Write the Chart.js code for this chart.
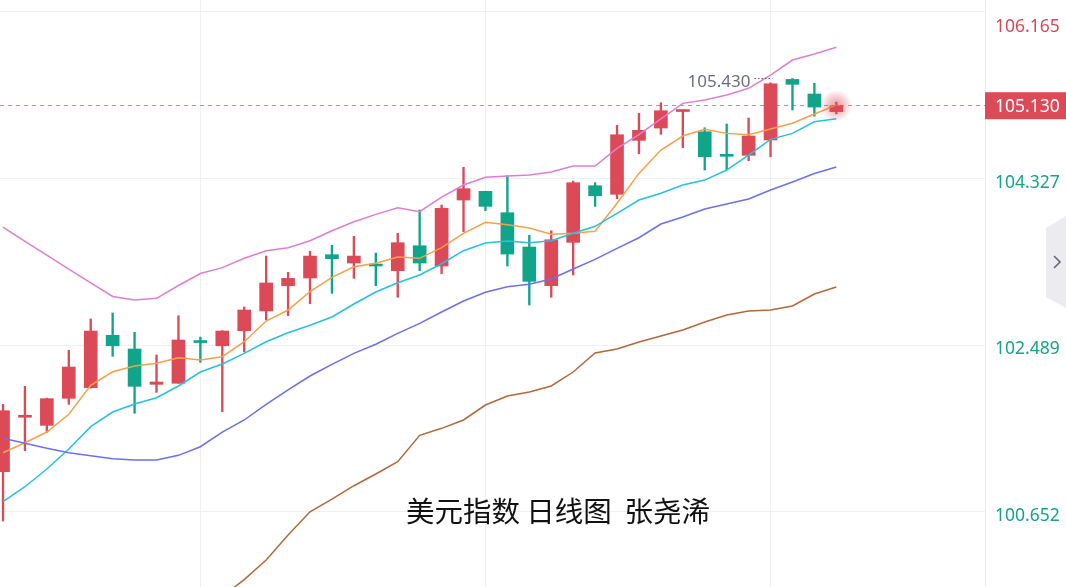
<!DOCTYPE html>
<html>
<head>
<meta charset="utf-8">
<script src="https://cdn.jsdelivr.net/npm/chart.js@4"></script>
<style>
  html, body { margin: 0; padding: 0; background: #ffffff; }
  #wrap { width: 1066px; height: 587px; position: relative; }
</style>
</head>
<body>
<div id="wrap"><canvas id="c" width="1066" height="587"></canvas></div>
<script>
// ---- Data (US Dollar Index, daily) ----
const opens  = [101.094,101.694,101.605,101.903,102.020,102.598,102.447,102.057,102.069,102.529,
                102.483,102.649,102.866,103.145,103.230,103.487,103.395,103.379,103.310,103.586,
                103.362,104.090,104.186,103.950,103.572,103.145,103.623,104.248,104.153,104.748,
                104.884,105.066,104.843,104.586,104.583,104.752,105.420,105.259,105.065];
const highs  = [101.837,102.035,101.905,102.432,102.778,102.844,102.631,102.381,102.814,102.579,
                102.650,102.910,103.472,103.293,103.524,103.590,103.690,103.505,103.723,103.980,
                104.035,104.451,104.186,104.358,103.701,103.751,104.299,104.281,104.914,105.046,
                105.163,105.082,104.887,104.928,104.994,105.383,105.430,105.377,105.170];
const lows   = [100.550,101.325,101.528,101.837,102.015,102.366,101.738,101.969,102.069,102.300,
                101.755,102.414,102.767,102.814,102.946,103.061,103.226,103.145,103.017,103.310,
                103.277,103.740,103.972,103.362,102.932,103.017,103.263,104.020,104.104,104.600,
                104.814,104.667,104.421,104.424,104.523,104.567,105.082,105.016,105.040];
const closes = [101.766,101.716,101.899,102.248,102.645,102.483,102.035,102.083,102.546,102.518,
                102.645,102.877,103.175,103.226,103.472,103.443,103.472,103.362,103.619,103.395,
                103.998,104.215,104.020,103.494,103.193,103.652,104.281,104.137,104.810,104.859,
                105.075,105.079,104.567,104.572,104.796,105.372,105.366,105.115,105.130];

const ma5   = [101.303,101.413,101.531,101.727,102.046,102.196,102.259,102.289,102.351,102.325,
               102.362,102.527,102.755,102.877,103.079,103.237,103.354,103.392,103.461,103.447,
               103.564,103.723,103.844,103.818,103.781,103.712,103.723,103.745,104.054,104.384,
               104.641,104.796,104.870,104.825,104.810,104.873,104.936,105.038,105.138];
const ma10  = [100.763,100.928,101.123,101.344,101.590,101.752,101.840,101.910,102.039,102.193,
               102.281,102.399,102.527,102.626,102.708,102.800,102.943,103.075,103.178,103.263,
               103.387,103.531,103.616,103.638,103.619,103.641,103.723,103.800,103.943,104.090,
               104.164,104.255,104.310,104.421,104.586,104.759,104.825,104.953,104.986];
const bollMid = [101.462,101.407,101.352,101.303,101.270,101.237,101.223,101.223,101.274,101.369,
               101.531,101.664,101.837,101.995,102.149,102.278,102.399,102.499,102.620,102.730,
               102.855,102.976,103.072,103.134,103.160,103.219,103.329,103.436,103.557,103.674,
               103.825,103.902,103.991,104.046,104.101,104.200,104.288,104.382,104.454];
const bollUpper = [103.792,103.633,103.481,103.329,103.177,103.026,102.987,103.006,103.147,103.279,
               103.344,103.447,103.531,103.564,103.641,103.751,103.851,103.932,104.005,103.961,
               104.123,104.255,104.340,104.355,104.366,104.399,104.465,104.465,104.660,104.812,
               104.986,105.156,105.193,105.248,105.322,105.468,105.634,105.700,105.774];
const bollLower = [null,null,null,null,null,null,null,null,null,null,
               99.718,99.904,100.120,100.395,100.652,100.792,100.939,101.068,101.204,101.495,
               101.572,101.664,101.829,101.928,101.973,102.039,102.193,102.403,102.447,102.524,
               102.590,102.656,102.744,102.822,102.866,102.877,102.921,103.053,103.130];

const yTickValues = [100.652, 102.489, 104.327, 106.165];
const xGridIdx = [9, 22, 35];
const lastPrice = 105.130;
const titleText = '美元指数 日线图  张尧浠';

// ---- Styles ----
const UP = '#dc4a58', DOWN = '#10a58a';
const idx = closes.map((_, i) => i);
const candleColors = closes.map((c, i) => c >= opens[i] ? UP : DOWN);

const bodyData = idx.map(i => ({ x: i, y: [opens[i], closes[i]] }));
const wickData = idx.map(i => ({ x: i, y: [lows[i], highs[i]] }));
const toPts = arr => arr.map((v, i) => ({ x: i, y: v }));

function lineDs(arr, color) {
  return { type: 'line', data: toPts(arr), borderColor: color, borderWidth: 1.5,
           pointRadius: 0, tension: 0, fill: false, order: 0, spanGaps: false };
}

const overlay = {
  id: 'overlay',
  beforeDatasetsDraw(chart) {
    const { ctx, chartArea, scales } = chart;
    const y = scales.y.getPixelForValue(lastPrice);
    ctx.save();
    ctx.strokeStyle = 'rgba(220,74,88,0.7)';
    ctx.lineWidth = 1;
    ctx.setLineDash([4, 4]);
    ctx.beginPath();
    ctx.moveTo(chartArea.left, Math.round(y) - 0.5);
    ctx.lineTo(chartArea.right, Math.round(y) - 0.5);
    ctx.stroke();
    ctx.restore();
  },
  afterDatasetsDraw(chart) {
    const { ctx, scales } = chart;
    const n = closes.length - 1;
    const cx = scales.x.getPixelForValue(n);
    const cy = scales.y.getPixelForValue(closes[n]);
    ctx.save();
    const g = ctx.createRadialGradient(cx, cy, 0, cx, cy, 16);
    g.addColorStop(0, 'rgba(220,74,88,0.55)');
    g.addColorStop(0.5, 'rgba(220,74,88,0.3)');
    g.addColorStop(1, 'rgba(220,74,88,0)');
    ctx.fillStyle = g;
    ctx.beginPath();
    ctx.arc(cx, cy, 16, 0, Math.PI * 2);
    ctx.fill();

    // max-high marker
    let mi = 0;
    highs.forEach((h, i) => { if (h > highs[mi]) mi = i; });
    const hx = scales.x.getPixelForValue(mi);
    const hy = scales.y.getPixelForValue(highs[mi]);
    ctx.font = '17px "Noto Sans"';
    ctx.fillStyle = '#6b6e7e';
    ctx.textAlign = 'right';
    ctx.textBaseline = 'middle';
    ctx.fillText(highs[mi].toFixed(3), hx - 42, hy + 4);
    ctx.strokeStyle = '#555a68';
    ctx.lineWidth = 1;
    ctx.setLineDash([1.5, 2]);
    ctx.beginPath();
    ctx.moveTo(hx - 38, Math.round(hy) - 0.5);
    ctx.lineTo(hx - 20, Math.round(hy) - 0.5);
    ctx.stroke();
    ctx.restore();
  },
  afterDraw(chart) {
    const { ctx, chartArea, scales } = chart;
    ctx.save();
    // axis labels
    ctx.font = '17.5px "Noto Sans"';
    ctx.textAlign = 'left';
    ctx.textBaseline = 'middle';
    yTickValues.forEach((v, k) => {
      const py = scales.y.getPixelForValue(v);
      const top = k === yTickValues.length - 1;
      ctx.fillStyle = v > lastPrice ? '#d9485a' : '#14a48a';
      ctx.fillText(v.toFixed(3), chartArea.right + 10, top ? py + 15 : py + 4);
    });
    // last price box
    const py = scales.y.getPixelForValue(lastPrice);
    ctx.fillStyle = '#dc4a58';
    ctx.fillRect(chartArea.right, py - 13.5, 1066 - chartArea.right, 27);
    ctx.fillStyle = '#ffffff';
    ctx.fillText(lastPrice.toFixed(3), chartArea.right + 10, py + 1);
    // title
    ctx.font = '28.5px "Noto Sans CJK SC"';
    ctx.fillStyle = '#111111';
    ctx.textAlign = 'center';
    ctx.fillText(titleText, 558, 511);
    // right collapse tab
    ctx.fillStyle = '#ececf0';
    ctx.beginPath();
    ctx.moveTo(1046, 228); ctx.lineTo(1066, 216); ctx.lineTo(1066, 308); ctx.lineTo(1046, 297);
    ctx.closePath(); ctx.fill();
    ctx.strokeStyle = '#666870';
    ctx.lineWidth = 1.6;
    ctx.beginPath();
    ctx.moveTo(1054, 256); ctx.lineTo(1060, 262); ctx.lineTo(1054, 268);
    ctx.stroke();
    ctx.restore();
  }
};

new Chart(document.getElementById('c'), {
  type: 'bar',
  data: {
    datasets: [
      { type: 'bar', data: wickData, backgroundColor: candleColors, barThickness: 1.7,
        grouped: false, order: 3, borderWidth: 0 },
      { type: 'bar', data: bodyData, backgroundColor: candleColors, barThickness: 13,
        minBarLength: 2, grouped: false, order: 2, borderWidth: 0 },
      lineDs(bollLower, '#b4673a'),
      lineDs(bollMid, '#6a70f0'),
      lineDs(bollUpper, '#e07dd3'),
      lineDs(ma10, '#25c0e0'),
      lineDs(ma5, '#f7a04b')
    ]
  },
  options: {
    responsive: false,
    animation: false,
    devicePixelRatio: 1,
    layout: { padding: 0 },
    plugins: { legend: { display: false }, tooltip: { enabled: false } },
    scales: {
      x: {
        type: 'linear', min: -0.137, max: 44.78, offset: false,
        ticks: { display: false },
        grid: { color: '#f0f0f3', drawTicks: false, offset: false },
        border: { display: false },
        afterBuildTicks: s => { s.ticks = xGridIdx.map(v => ({ value: v })); },
        afterFit: s => { s.height = 0; }
      },
      y: {
        position: 'right', min: 99.822, max: 106.296,
        ticks: { display: false },
        grid: { color: '#f0f0f3', drawTicks: false },
        border: { display: true, color: '#ebebef' },
        afterBuildTicks: s => { s.ticks = yTickValues.map(v => ({ value: v })); },
        afterFit: s => { s.width = 81; }
      }
    }
  },
  plugins: [overlay]
});
</script>
</body>
</html>
